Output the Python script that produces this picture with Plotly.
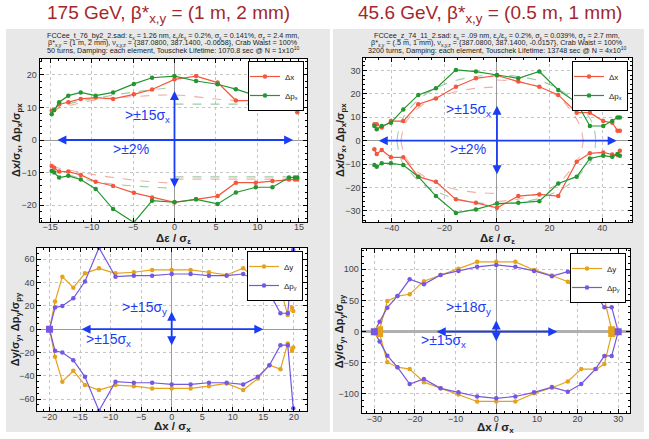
import plotly.graph_objects as go

W, H = 649, 439


def px(x):
    return x / W


def py(y):
    return 1 - y / H


# ---------------- data: top-left (175 GeV) -----------------
tl_eps = [-14.8, -14.5, -13.9, -12.8, -11.3, -9.5, -7.4, -4.9, -2.7, 0.0, 2.6, 5.2, 7.4, 9.8, 11.8, 13.8, 14.5, 14.8]
tl_dx_up = [9.0, 9.2, 10.9, 11.6, 12.6, 13.0, 12.6, 14.0, 15.5, 18.6, 19.6, 17.6, 12.1, 12.1, 12.1, 12.1, 11.6, 8.5]
tl_dpx_up = [7.9, 9.2, 11.6, 13.6, 14.6, 13.6, 14.6, 17.2, 19.1, 19.6, 18.1, 17.1, 15.6, 13.6, 12.1, 11.0, 11.0, 11.0]
tl_dx_lo = [-8.0, -8.5, -9.7, -9.7, -10.7, -12.8, -14.1, -16.2, -17.6, -19.1, -18.2, -17.2, -13.1, -13.1, -12.6, -12.1, -12.1, -12.1]
tl_dpx_lo = [-9.5, -10.0, -11.5, -11.0, -12.1, -15.0, -21.2, -25.3, -18.6, -19.1, -18.2, -19.6, -16.1, -14.5, -14.5, -11.5, -11.5, -11.5]

tl_red_dash_up_x = [-14.8, -9.5, -4.9, 0.0, 5.2, 9.8, 14.9]
tl_red_dash_up_y = [9.2, 12.3, 13.3, 13.8, 12.5, 11.5, 8.5]
tl_red_dash_lo_x = [-14.8, -9.5, -4.9, 0.0]
tl_red_dash_lo_y = [-8.2, -10.7, -12.3, -13.3]
tl_red_dash_lr_x = [0.0, 14.9]
tl_red_dash_lr_y = [-12.0, -12.0]
tl_grn_dash_up_x = [-14.8, -12.8, -9.5, -4.9, 0.0]
tl_grn_dash_up_y = [8.7, 11.0, 12.8, 14.7, 16.2]
tl_grn_dash_ur_x = [0.0, 14.9]
tl_grn_dash_ur_y = [11.0, 11.0]
tl_grn_dash_lo_x = [-14.8, -9.5, -4.9, 0.0]
tl_grn_dash_lo_y = [-9.2, -12.8, -14.1, -14.8]
tl_grn_dash_lr_x = [0.0, 14.9]
tl_grn_dash_lr_y = [-11.3, -11.3]

# ---------------- data: top-right (45.6 GeV) -----------------
tr_eps = [-46.6, -45.7, -43.8, -40.3, -35.6, -29.9, -23.2, -15.6, -8.0, 0.0, 8.1, 16.1, 23.3, 30.3, 35.3, 40.4, 43.8, 45.8, 46.7]
tr_dx_up = [7.0, 7.0, 5.6, 8.4, 8.4, 15.6, 18.1, 23.1, 26.7, 27.9, 25.3, 23.1, 19.6, 12.0, 12.0, 8.4, 7.7, 4.3, 4.3]
tr_dpx_up = [6.3, 4.9, 6.3, 7.7, 13.4, 19.6, 22.4, 30.3, 29.6, 28.1, 26.7, 29.6, 21.7, 16.3, 6.3, 6.3, 8.4, 9.9, 9.9]
tr_dx_lo = [-3.7, -5.7, -4.0, -7.1, -7.1, -15.4, -17.6, -25.1, -26.6, -28.7, -23.7, -23.0, -23.7, -9.0, -5.4, -5.0, -5.9, -6.1, -4.3]
tr_dpx_lo = [-10.4, -11.1, -9.7, -9.7, -10.4, -15.4, -23.7, -30.9, -29.4, -26.9, -26.6, -25.9, -18.3, -15.4, -7.6, -6.4, -6.9, -5.7, -6.4]

tr_grn_dash_x = [-38.0, -36.5, -33.0, -27.0, -18.0, -8.0, 0.0, 8.0, 18.0, 27.0, 33.0, 36.5, 37.5]
tr_grn_dash_up_y = [0.0, 8.0, 14.0, 20.0, 25.0, 27.5, 28.0, 27.5, 25.0, 19.5, 13.0, 7.0, 0.0]
tr_grn_dash_lo_y = [0.0, -8.0, -13.5, -19.5, -24.0, -26.5, -27.0, -26.5, -24.0, -19.0, -12.5, -7.0, 0.0]
tr_red_dash_l_x = [-36.5, -35.0, -31.0, -25.0, -17.0, -9.0, 0.0]
tr_red_dash_ul_y = [0.0, 7.0, 13.0, 17.5, 20.5, 22.3, 23.0]
tr_red_dash_ll_y = [0.0, -6.5, -12.5, -17.0, -20.5, -22.0, -22.6]
tr_red_dash_r_x = [0.0, 8.0, 16.0, 23.0, 28.0, 31.5, 32.8]
tr_red_dash_ur_y = [26.0, 25.3, 23.0, 19.0, 13.0, 6.5, 0.0]
tr_red_dash_lr_y = [-26.0, -25.0, -22.5, -18.5, -12.5, -6.5, 0.0]

# ---------------- data: bottom-left (175 GeV, x-y) -----------------
bl_y_x = [-20.0, -19.1, -17.9, -16.1, -14.2, -11.9, -9.2, -6.2, -3.2, 0.0, 3.1, 6.1, 9.0, 11.7, 14.1, 16.0, 17.8, 19.0, 19.7, 19.9]
bl_dy_up = [0.0, 23.7, 45.1, 35.7, 48.0, 52.3, 48.0, 48.9, 50.9, 50.9, 50.9, 48.9, 46.6, 52.3, 42.3, 30.9, 34.3, 12.3, 18.6, 15.7]
bl_dy_lo = [0.0, -23.7, -45.1, -35.7, -48.0, -52.3, -48.0, -48.9, -50.9, -50.9, -50.9, -48.9, -46.6, -52.3, -42.3, -30.9, -34.3, -12.3, -18.6, -15.7]
bl_py_x = [-20.0, -19.1, -17.9, -16.1, -14.2, -11.9, -9.2, -6.2, -3.2, 0.0, 3.1, 6.1, 9.0, 11.7, 14.1, 16.0, 17.8, 19.0, 19.9]
bl_dpy_up = [0.0, 18.6, 20.0, 26.6, 40.9, 70.0, 45.1, 46.0, 46.0, 47.4, 47.4, 46.0, 46.0, 47.4, 40.9, 30.9, 13.7, 13.7, 68.0]
bl_dpy_lo = [0.0, -18.6, -20.0, -26.6, -40.9, -70.0, -45.1, -46.0, -46.0, -47.4, -47.4, -46.0, -46.0, -47.4, -40.9, -30.9, -13.7, -13.7, -68.0]

# ---------------- data: bottom-right (45.6 GeV, x-y) -----------------
br_y_x = [-28.7, -26.8, -24.3, -21.3, -17.8, -13.7, -9.3, -4.7, 0.0, 4.7, 9.3, 13.7, 17.6, 20.9, 24.6, 26.6, 28.4]
br_dy_up = [3.0, 49.0, 57.0, 60.0, 81.0, 91.0, 101.0, 112.0, 112.0, 112.0, 99.0, 90.0, 80.0, 60.0, 60.0, 52.0, 3.0]
br_dy_lo = [-3.0, -49.0, -57.0, -60.0, -81.0, -91.0, -101.0, -112.0, -112.0, -112.0, -99.0, -90.0, -80.0, -60.0, -60.0, -52.0, -3.0]
br_py_x = [-30.0, -28.7, -26.8, -24.3, -21.3, -17.8, -13.7, -9.3, -4.7, 0.0, 4.7, 9.3, 13.7, 17.6, 20.9, 24.4, 26.6, 28.4, 30.0]
br_dpy_up = [0.0, 16.0, 38.5, 57.0, 84.0, 76.0, 91.0, 97.4, 104.0, 107.0, 104.0, 97.4, 89.0, 96.3, 84.0, 60.0, 39.0, 39.0, 0.0]
br_dpy_lo = [0.0, -16.0, -38.5, -57.0, -84.0, -76.0, -91.0, -97.4, -104.0, -107.0, -104.0, -97.4, -89.0, -96.3, -84.0, -60.0, -39.0, -39.0, 0.0]

# arrows (data coords): [x_tail, y_tail, x_head, y_head]
tl_arrows = [[-14.3, 0, 14.3, 0], [0, -15, 0, 15]]
tr_arrows = [[-45.5, 0, 45.5, 0], [0, -15, 0, 15]]
bl_arrows = [[-15, 0, 15, 0], [0, -15, 0, 15]]
br_arrows = [[-15, 0, 15, 0], [0, -18, 0, 18]]

# arrow labels: (text, x, y)
tl_labels = [(">±15σ<sub>x</sub>", -3.3, 7.4), (">±2%", -5.2, -2.9)]
tr_labels = [(">±15σ<sub>x</sub>", -10.9, 13.1), (">±2%", -11.0, -3.7)]
bl_labels = [(">±15σ<sub>y</sub>", -4.5, 18.6), (">±15σ<sub>x</sub>", -10.3, -9.1)]
br_labels = [(">±18σ<sub>y</sub>", -6.8, 38.5), (">±15σ<sub>x</sub>", -12.9, -15.0)]

titles = ["175 GeV, β*<sub>x,y</sub> = (1 m, 2 mm)", "45.6 GeV, β*<sub>x,y</sub> = (0.5 m, 1 mm)"]
tl_header = [
    "FCCee_t_76_by2_2.sad: ε<sub>x</sub> = 1.26 nm, ε<sub>y</sub>/ε<sub>x</sub> = 0.2%, σ<sub>ε</sub> = 0.141%, σ<sub>z</sub> = 2.4 mm,",
    "β*<sub>x,y</sub> = (1 m, 2 mm), ν<sub>x,y,z</sub> = {387.0800, 387.1400, -0.0658}, Crab Waist = 100%",
    "50 turns, Damping: each element, Touschek Lifetime: 1070.8 sec @ N = 1x10<sup>10</sup>",
]
tr_header = [
    "FCCee_z_74_11_2.sad: ε<sub>x</sub> = .09 nm, ε<sub>y</sub>/ε<sub>x</sub> = 0.2%, σ<sub>ε</sub> = 0.039%, σ<sub>z</sub> = 2.7 mm,",
    "β*<sub>x,y</sub> = (.5 m, 1 mm), ν<sub>x,y,z</sub> = {387.0800, 387.1400, -0.0157}, Crab Waist = 100%",
    "3200 turns, Damping: each element, Touschek Lifetime: 13748 sec @ N = 4x10<sup>10</sup>",
]

# ---------------- style -----------------
FONT = "Liberation Sans, Arial, sans-serif"
C_DX = "#f5573d"
C_DPX = "#23962f"
C_DY = "#e5a21c"
C_DPY = "#7657e0"
C_RDASH = "rgba(235,120,100,0.6)"
C_GDASH = "rgba(90,170,110,0.6)"
C_BLUE = "#1a3cf5"
TITLE_RED = "#a3272d"

# plot-area pixel boxes (left, top, right, bottom)
boxes = {
    1: (39.5, 58.5, 307.0, 221.5),
    2: (363.3, 58.0, 631.7, 222.0),
    3: (37.3, 247.7, 306.7, 410.7),
    4: (361.7, 249.0, 630.0, 413.3),
}

fig = go.Figure()


def axn(k, a):
    return a if k == 1 else f"{a}{k}"


def add_series(k, xs, ys, color, name, legend, show):
    fig.add_trace(go.Scatter(
        x=xs, y=ys, mode="lines+markers", name=name,
        line=dict(color=color, width=1.2),
        marker=dict(color=color, size=4.5, symbol="circle"),
        xaxis=axn(k, "x"), yaxis=axn(k, "y"),
        legend=legend, legendgroup=f"{legend}-{name}", showlegend=show,
    ))


def add_dash(k, xs, ys, color):
    fig.add_trace(go.Scatter(
        x=xs, y=ys, mode="lines", line=dict(color=color, width=1.1, dash="dash", shape="spline"),
        xaxis=axn(k, "x"), yaxis=axn(k, "y"),
        showlegend=False, hoverinfo="skip",
    ))


def add_ends(k, xs, ys, color):
    # enlarged square markers where the scan starts / ends on the mid-plane
    fig.add_trace(go.Scatter(
        x=xs, y=ys, mode="markers", marker=dict(color=color, size=7, symbol="square"),
        xaxis=axn(k, "x"), yaxis=axn(k, "y"), showlegend=False, hoverinfo="skip",
    ))


# dashed guides
add_dash(1, tl_red_dash_up_x, tl_red_dash_up_y, C_RDASH)
add_dash(1, tl_red_dash_lo_x, tl_red_dash_lo_y, C_RDASH)
add_dash(1, tl_red_dash_lr_x, tl_red_dash_lr_y, C_RDASH)
add_dash(1, tl_grn_dash_up_x, tl_grn_dash_up_y, C_GDASH)
add_dash(1, tl_grn_dash_ur_x, tl_grn_dash_ur_y, C_GDASH)
add_dash(1, tl_grn_dash_lo_x, tl_grn_dash_lo_y, C_GDASH)
add_dash(1, tl_grn_dash_lr_x, tl_grn_dash_lr_y, C_GDASH)
add_dash(2, tr_grn_dash_x, tr_grn_dash_up_y, C_GDASH)
add_dash(2, tr_grn_dash_x, tr_grn_dash_lo_y, C_GDASH)
add_dash(2, tr_red_dash_l_x, tr_red_dash_ul_y, C_RDASH)
add_dash(2, tr_red_dash_l_x, tr_red_dash_ll_y, C_RDASH)
add_dash(2, tr_red_dash_r_x, tr_red_dash_ur_y, C_RDASH)
add_dash(2, tr_red_dash_r_x, tr_red_dash_lr_y, C_RDASH)

# data series
add_series(1, tl_eps, tl_dx_up, C_DX, "Δx", "legend", True)
add_series(1, tl_eps, tl_dx_lo, C_DX, "Δx", "legend", False)
add_series(1, tl_eps, tl_dpx_up, C_DPX, "Δp<sub>x</sub>", "legend", True)
add_series(1, tl_eps, tl_dpx_lo, C_DPX, "Δp<sub>x</sub>", "legend", False)

add_series(2, tr_eps, tr_dx_up, C_DX, "Δx", "legend2", True)
add_series(2, tr_eps, tr_dx_lo, C_DX, "Δx", "legend2", False)
add_series(2, tr_eps, tr_dpx_up, C_DPX, "Δp<sub>x</sub>", "legend2", True)
add_series(2, tr_eps, tr_dpx_lo, C_DPX, "Δp<sub>x</sub>", "legend2", False)

add_series(3, bl_y_x, bl_dy_up, C_DY, "Δy", "legend3", True)
add_series(3, bl_y_x, bl_dy_lo, C_DY, "Δy", "legend3", False)
add_series(3, bl_py_x, bl_dpy_up, C_DPY, "Δp<sub>y</sub>", "legend3", True)
add_series(3, bl_py_x, bl_dpy_lo, C_DPY, "Δp<sub>y</sub>", "legend3", False)
add_ends(3, [bl_py_x[0]], [bl_dpy_up[0]], C_DPY)

add_series(4, br_y_x, br_dy_up, C_DY, "Δy", "legend4", True)
add_series(4, br_y_x, br_dy_lo, C_DY, "Δy", "legend4", False)
add_series(4, br_py_x, br_dpy_up, C_DPY, "Δp<sub>y</sub>", "legend4", True)
add_series(4, br_py_x, br_dpy_lo, C_DPY, "Δp<sub>y</sub>", "legend4", False)
add_ends(4, [br_y_x[0], br_y_x[0], br_y_x[-1], br_y_x[-1]],
         [br_dy_up[0], br_dy_lo[0], br_dy_up[-1], br_dy_lo[-1]], C_DY)
add_ends(4, [br_py_x[0], br_py_x[-1]], [br_dpy_up[0], br_dpy_up[-1]], C_DPY)

# ---------------- axes -----------------
ranges = {
    1: ([-16.27, 15.97], [-25, 25], 5, 1, 10, 2),
    2: ([-50.8, 51.2], [-34.8, 35.4], 20, 5, 10, 2),
    3: ([-22.0, 22.1], [-70, 70], 5, 1, 20, 5),
    4: ([-33.1, 32.9], [-131, 132.6], 10, 2, 50, 10),
}

layout_axes = {}
for k, (l, t, r, b) in boxes.items():
    xr, yr, xd, xmd, yd, ymd = ranges[k]
    common = dict(
        showline=True, linecolor="black", linewidth=1, mirror="allticks",
        ticks="inside", ticklen=4, tickcolor="black", tickwidth=1,
        showgrid=True, gridcolor="#c4c4c4", griddash="dot", gridwidth=1,
        zeroline=True, zerolinecolor="#9a9a9a", zerolinewidth=1,
        tickfont=dict(size=9, color="#444", family=FONT),
        minor=dict(ticks="inside", ticklen=2, tickcolor="black", showgrid=False),
        fixedrange=True,
    )
    xa = dict(common, domain=[px(l), px(r)], range=xr, dtick=xd, tick0=0,
              anchor=axn(k, "y"), ticklabelstandoff=-3)
    xa["minor"] = dict(common["minor"], dtick=xmd)
    ya = dict(common, domain=[py(b), py(t)], range=yr, dtick=yd, tick0=0,
              anchor=axn(k, "x"))
    ya["minor"] = dict(common["minor"], dtick=ymd)
    if k == 4:
        ya["zerolinewidth"] = 3
        ya["zerolinecolor"] = "#b0b0b0"
    layout_axes[axn(k, "xaxis")] = xa
    layout_axes[axn(k, "yaxis")] = ya

# ---------------- shapes: grey panels + white plot areas -----------------
shapes = []
for (x0, x1) in [(6, 330), (333, 644)]:
    shapes.append(dict(type="rect", xref="paper", yref="paper", x0=px(x0), x1=px(x1),
                       y0=py(432), y1=py(29), fillcolor="#e8e8e8", line=dict(width=0), layer="below"))
for k, (l, t, r, b) in boxes.items():
    shapes.append(dict(type="rect", xref="paper", yref="paper", x0=px(l), x1=px(r),
                       y0=py(b), y1=py(t), fillcolor="white", line=dict(width=0), layer="below"))

# ---------------- annotations -----------------
ann = []
# titles
ann.append(dict(text=titles[0], x=px(168), y=py(14), xref="paper", yref="paper", showarrow=False,
                font=dict(size=19, color=TITLE_RED, family=FONT), xanchor="center", yanchor="middle"))
ann.append(dict(text=titles[1], x=px(490), y=py(14), xref="paper", yref="paper", showarrow=False,
                font=dict(size=19, color=TITLE_RED, family=FONT), xanchor="center", yanchor="middle"))

# header lines
for hdr, k in [(tl_header, 1), (tr_header, 2)]:
    l, t, r, b = boxes[k]
    cx = (l + r) / 2
    for i, line in enumerate(hdr):
        ann.append(dict(text=line, x=px(cx), y=py(36 + 6.8 * i), xref="paper", yref="paper",
                        showarrow=False, font=dict(size=7.2, color="#222", family=FONT),
                        xanchor="center", yanchor="middle"))

# axis titles
ytitles = {1: "<b>Δx/σ<sub>x</sub>, Δp<sub>x</sub>/σ<sub>px</sub></b>",
           2: "<b>Δx/σ<sub>x</sub>, Δp<sub>x</sub>/σ<sub>px</sub></b>",
           3: "<b>Δy/σ<sub>y</sub>, Δp<sub>y</sub>/σ<sub>py</sub></b>",
           4: "<b>Δy/σ<sub>y</sub>, Δp<sub>y</sub>/σ<sub>py</sub></b>"}
xtitles = {1: "<b>Δε / σ<sub>ε</sub></b>", 2: "<b>Δε / σ<sub>ε</sub></b>",
           3: "<b>Δx / σ<sub>x</sub></b>", 4: "<b>Δx / σ<sub>x</sub></b>"}
ytitle_x = {1: 17, 2: 341, 3: 16, 4: 340}
xtitle_y = {1: 239, 2: 239, 3: 427, 4: 428}
for k, (l, t, r, b) in boxes.items():
    ann.append(dict(text=ytitles[k], x=px(ytitle_x[k]), y=py((t + b) / 2), xref="paper", yref="paper",
                    showarrow=False, textangle=-90, font=dict(size=11, color="#222", family=FONT),
                    xanchor="center", yanchor="middle"))
    ann.append(dict(text=xtitles[k], x=px((l + r) / 2), y=py(xtitle_y[k]), xref="paper", yref="paper",
                    showarrow=False, font=dict(size=11.5, color="#222", family=FONT),
                    xanchor="center", yanchor="middle"))

# arrows and labels
for k, arrows, labels in [(1, tl_arrows, tl_labels), (2, tr_arrows, tr_labels),
                          (3, bl_arrows, bl_labels), (4, br_arrows, br_labels)]:
    xr = axn(k, "x")
    yr = axn(k, "y")
    for (x0, y0, x1, y1) in arrows:
        ann.append(dict(text="", x=x1, y=y1, ax=x0, ay=y0, xref=xr, yref=yr, axref=xr, ayref=yr,
                        showarrow=True, arrowhead=2, startarrowhead=2, arrowside="end+start",
                        arrowsize=1.0, startarrowsize=1.0, arrowwidth=1.8, arrowcolor=C_BLUE))
    for (txt, x, y) in labels:
        ann.append(dict(text=txt, x=x, y=y, xref=xr, yref=yr, showarrow=False,
                        font=dict(size=14, color=C_BLUE, family=FONT), xanchor="center", yanchor="middle"))

# legends
leg_common = dict(bgcolor="white", bordercolor="black", borderwidth=1,
                  font=dict(size=8, color="#222", family=FONT), xanchor="right", yanchor="top",
                  itemwidth=30, tracegroupgap=0, xref="paper", yref="paper", indentation=-4)
legends = dict(
    legend=dict(leg_common, x=px(304), y=py(61)),
    legend2=dict(leg_common, x=px(628), y=py(61)),
    legend3=dict(leg_common, x=px(303), y=py(251)),
    legend4=dict(leg_common, x=px(626), y=py(253)),
)

fig.update_layout(
    width=W, height=H, margin=dict(l=0, r=0, t=0, b=0),
    paper_bgcolor="white", plot_bgcolor="white",
    font=dict(family=FONT),
    shapes=shapes, annotations=ann,
    **layout_axes, **legends,
)

fig.write_html("out.html")
